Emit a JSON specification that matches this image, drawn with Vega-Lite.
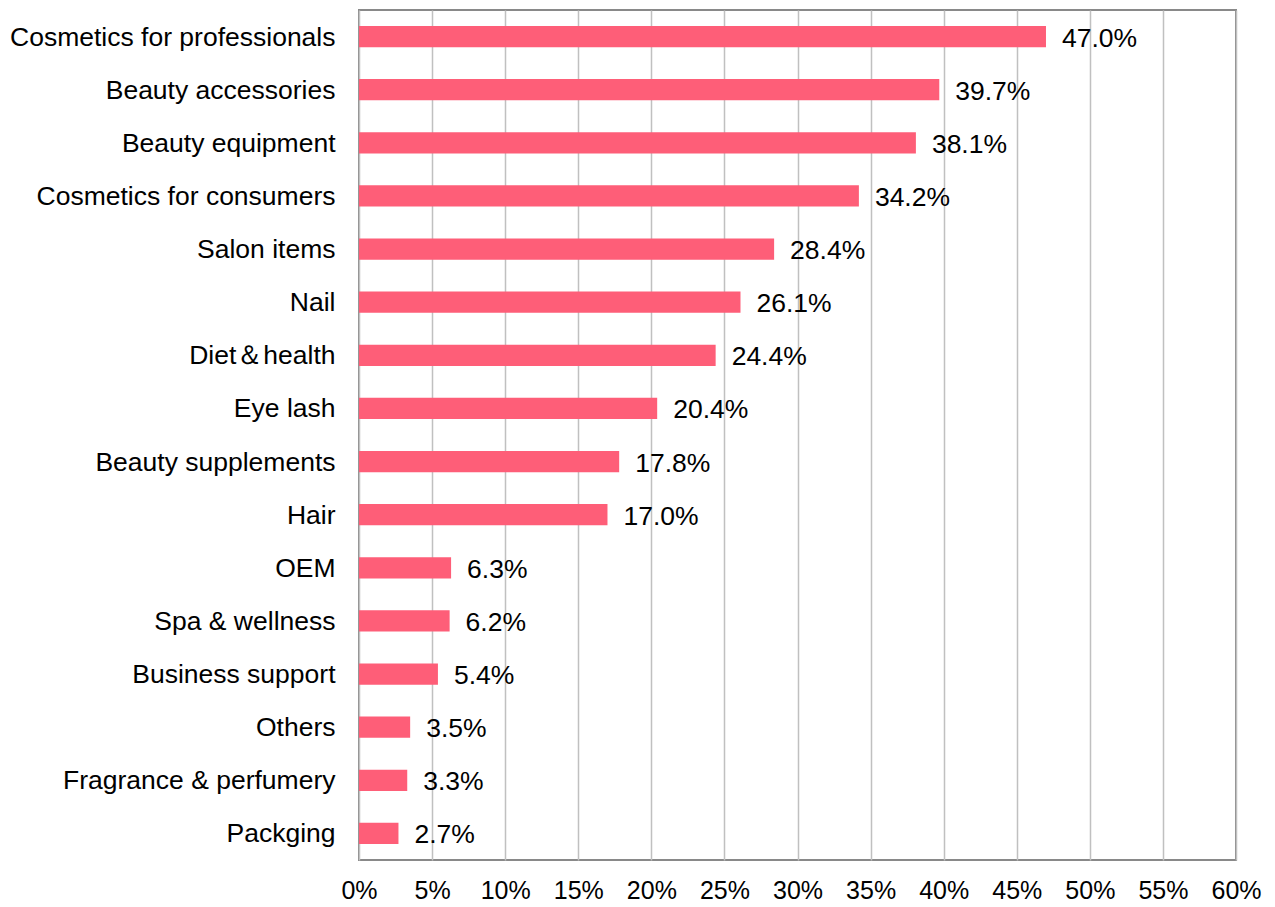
{
  "$schema": "https://vega.github.io/schema/vega-lite/v6.json",
  "autosize": "none",
  "width": 877,
  "height": 850,
  "padding": {"left": 359, "top": 10, "right": 39, "bottom": 47},
  "background": "white",
  "config": {
    "view": {"stroke": "#898989", "strokeWidth": 2},
    "font": "Liberation Sans"
  },
  "data": {
    "values": [
      {"category": "Cosmetics for professionals", "value": 47.0},
      {"category": "Beauty accessories", "value": 39.7},
      {"category": "Beauty equipment", "value": 38.1},
      {"category": "Cosmetics for consumers", "value": 34.2},
      {"category": "Salon items", "value": 28.4},
      {"category": "Nail", "value": 26.1},
      {"category": "Diet＆health", "value": 24.4},
      {"category": "Eye lash", "value": 20.4},
      {"category": "Beauty supplements", "value": 17.8},
      {"category": "Hair", "value": 17.0},
      {"category": "OEM", "value": 6.3},
      {"category": "Spa & wellness", "value": 6.2},
      {"category": "Business support\u00a0", "value": 5.4},
      {"category": "Others", "value": 3.5},
      {"category": "Fragrance & perfumery", "value": 3.3},
      {"category": "Packging", "value": 2.7}
    ]
  },
  "encoding": {
    "y": {
      "field": "category",
      "type": "nominal",
      "sort": null,
      "scale": {"paddingInner": 0.6, "paddingOuter": 0.3},
      "axis": {
        "title": null,
        "ticks": false,
        "domain": false,
        "labelFontSize": 26.5,
        "labelColor": "#000000",
        "labelPadding": 24,
        "labelFont": "Liberation Sans",
        "labelLimit": 500,
        "labelOffset": 1
      }
    }
  },
  "layer": [
    {
      "mark": {"type": "bar", "color": "#FE5E78"},
      "encoding": {
        "x": {
          "field": "value",
          "type": "quantitative",
          "scale": {"domain": [0, 60], "nice": false},
          "axis": {
            "title": null,
            "values": [0, 5, 10, 15, 20, 25, 30, 35, 40, 45, 50, 55, 60],
            "labelExpr": "datum.value + '%'",
            "ticks": false,
            "domain": false,
            "grid": true,
            "gridColor": "#C0C0C0",
            "gridWidth": 1.5,
            "labelFontSize": 25,
            "labelColor": "#000000",
            "labelPadding": 18,
            "labelFont": "Liberation Sans",
            "labelFlush": false
          }
        }
      }
    },
    {
      "mark": {"type": "text", "align": "left", "baseline": "middle", "dx": 16, "dy": 2, "fontSize": 26.5, "color": "#000000", "font": "Liberation Sans"},
      "encoding": {
        "x": {"field": "value", "type": "quantitative"},
        "text": {"field": "label", "type": "nominal"}
      }
    }
  ],
  "transform": [
    {"calculate": "format(datum.value, '.1f') + '%'", "as": "label"}
  ]
}
